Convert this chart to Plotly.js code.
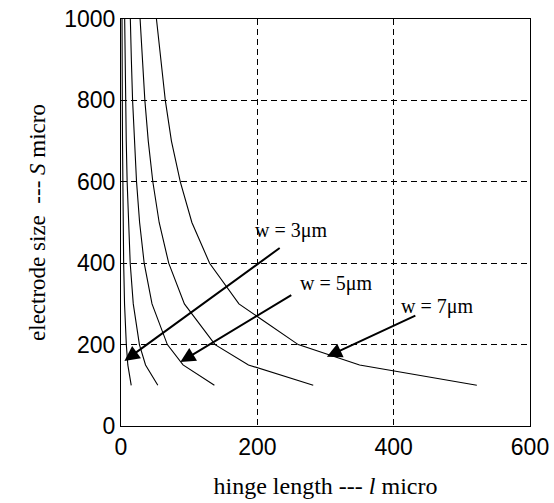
<!DOCTYPE html>
<html>
<head>
<meta charset="utf-8">
<script src="https://cdn.plot.ly/plotly-3.0.1.min.js"></script>
<style>html,body{margin:0;padding:0;background:#fff;}#chart{width:554px;height:503px;}</style>
</head>
<body>
<div id="chart"></div>
<script>
// electrode size S (micro) at which each curve was read
const electrodeSize = [100, 150, 200, 300, 400, 500, 600, 700, 800, 900, 1000];
// hinge length l (micro) read for each curve
const hingeW3 = [15, 10, 7.8, 5.2, 3.9, 3.1, 2.6, 2.2, 1.9, 1.7, 1.5];
const hingeW4 = [54, 36, 27, 18, 13.5, 10.8, 9, 7.7, 6.7, 6, 5.4];
const hingeW5 = [137, 91, 68, 45.5, 34, 27.3, 22.8, 19.5, 17, 15.2, 13.7];
const hingeW6 = [282, 187, 138, 93, 70, 56, 46.7, 40, 35, 31, 28];
const hingeW7 = [522, 350, 260, 173, 130, 104, 87, 74, 65, 58, 52];

const xTicks = [0, 200, 400, 600];
const yTicks = [0, 200, 400, 600, 800, 1000];

// labels: text, label position, arrow tail, arrow tip (data units)
const labelText = ['w = 3\u03bcm', 'w = 5\u03bcm', 'w = 7\u03bcm'];
const labelX = [250, 316, 464];
const labelY = [480, 351, 294];
const tailX = [235, 252, 434];
const tailY = [440, 324, 273];
const tipX = [5, 87, 302];
const tipY = [160, 157, 170];

const series = [hingeW3, hingeW4, hingeW5, hingeW6, hingeW7];
const traces = series.map(s => ({
  x: s, y: electrodeSize, type: 'scatter', mode: 'lines',
  line: {color: '#000', width: 1.1}, hoverinfo: 'skip', showlegend: false
}));

const annotations = [];
for (let i = 0; i < labelText.length; i++) {
  annotations.push({
    x: labelX[i], y: labelY[i], xref: 'x', yref: 'y', text: labelText[i],
    showarrow: false, font: {family: 'Liberation Serif, Times New Roman, serif', size: 20, color: '#000'}
  });
  annotations.push({
    x: tipX[i], y: tipY[i], xref: 'x', yref: 'y', ax: tailX[i], ay: tailY[i],
    axref: 'x', ayref: 'y', text: '', showarrow: true, arrowhead: 2,
    arrowsize: 1.5, arrowwidth: 2, arrowcolor: '#000'
  });
}

const axisCommon = {
  showline: true, mirror: true, linecolor: '#000', linewidth: 1,
  showgrid: true, gridcolor: '#000', gridwidth: 1, griddash: '6px,4px',
  zeroline: false, ticks: '', tickfont: {family: 'Liberation Sans, Arial, sans-serif', size: 23, color: '#000'}
};

const layout = {
  width: 554, height: 503,
  margin: {l: 121, r: 24, t: 19, b: 77},
  paper_bgcolor: '#fff', plot_bgcolor: '#fff',
  showlegend: false,
  xaxis: Object.assign({}, axisCommon, {
    range: [0, 600], tickvals: xTicks, ticktext: xTicks.map(String),
    title: {text: 'hinge length --- <i>l</i> micro', standoff: 18,
      font: {family: 'Liberation Serif, Times New Roman, serif', size: 24, color: '#000'}}
  }),
  yaxis: Object.assign({}, axisCommon, {
    range: [0, 1000], tickvals: yTicks, ticktext: yTicks.map(String),
    title: {text: 'electrode size &nbsp;--- <i>S</i> micro', standoff: 12,
      font: {family: 'Liberation Serif, Times New Roman, serif', size: 23, color: '#000'}}
  }),
  annotations: annotations
};

Plotly.newPlot('chart', traces, layout, {staticPlot: true, displayModeBar: false});
</script>
</body>
</html>
